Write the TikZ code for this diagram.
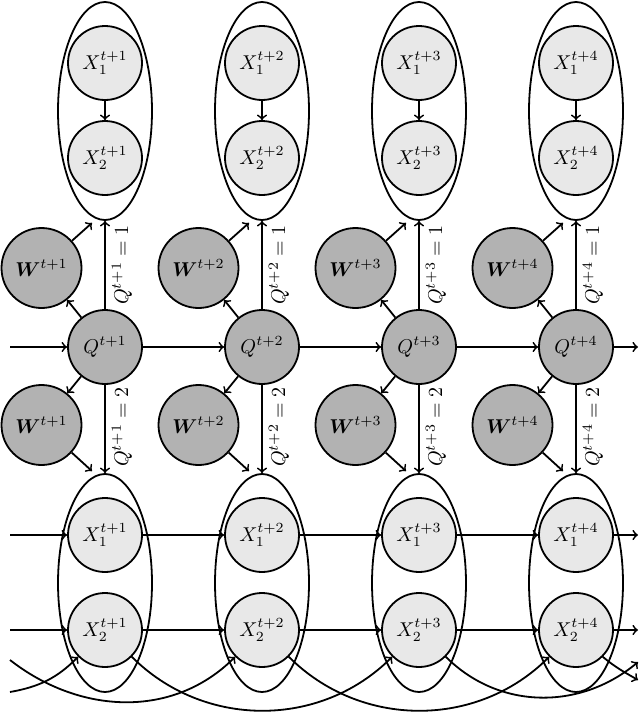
\documentclass[tikz,border=0pt]{standalone}
\usepackage{bm}
\usetikzlibrary{shapes.geometric,calc}
\begin{document}
\begin{tikzpicture}[x=0.5pt,y=-0.5pt,
  line width=0.9pt,
  xnode/.style={circle,draw,fill=black!9,minimum size=37pt,inner sep=0pt},
  qnode/.style={circle,draw,fill=black!30,minimum size=37pt,inner sep=0pt},
  wnode/.style={circle,draw,fill=black!30,minimum size=40pt,inner sep=0pt},
  grp/.style={ellipse,draw,minimum width=47pt,minimum height=109pt,inner sep=0pt},
  arr/.style={->},
  lbl/.style={rotate=90,inner sep=1pt}
]
\useasboundingbox (0,0) rectangle (640,712);
\foreach \i [evaluate=\i as \cx using 105+157*(\i-1)] in {1,2,3,4} {
  \node[grp] (Et\i) at (\cx,111) {};
  \node[xnode] (Xa\i) at (\cx,63) {$X_1^{t+\i}$};
  \node[xnode] (Xb\i) at (\cx,158) {$X_2^{t+\i}$};
  \node[qnode] (Q\i) at (\cx,347) {$Q^{t+\i}$};
  \node[wnode] (Wu\i) at (\cx-63.5,268) {$\bm{W}^{t+\i}$};
  \node[wnode] (Wl\i) at (\cx-63.5,425) {$\bm{W}^{t+\i}$};
  \node[grp] (Eb\i) at (\cx,583) {};
  \node[xnode] (Ya\i) at (\cx,535) {$X_1^{t+\i}$};
  \node[xnode] (Yb\i) at (\cx,630) {$X_2^{t+\i}$};
  \draw[arr] (Xa\i) -- (Xb\i);
  \draw[arr] (Q\i) -- (Et\i.south);
  \draw[arr] (Q\i) -- (Eb\i.north);
  \draw[arr] (Q\i) -- (Wu\i);
  \draw[arr] (Q\i) -- (Wl\i);
  \draw[arr] (Wu\i) -- ($(Et\i.south)+(-13,2)$);
  \draw[arr] (Wl\i) -- ($(Eb\i.north)+(-13,-2)$);
  \node[lbl] (La\i) at (\cx+17,265) {$Q^{t+\i}=1$};
  \node[lbl] (Lb\i) at (\cx+17,427) {$Q^{t+\i}=2$};
}
\coordinate (qin) at (10,347); \coordinate (qout) at (638,347);
\coordinate (ain) at (10,535); \coordinate (aout) at (638,535);
\coordinate (bin) at (10,630); \coordinate (bout) at (638,630);
\draw[arr] (qin) -- (Q1);
\draw[arr] (ain) -- (Ya1);
\draw[arr] (bin) -- (Yb1);
\foreach \i/\j in {1/2,2/3,3/4} {
  \draw[arr] (Q\i) -- (Q\j);
  \draw[arr] (Ya\i) -- (Ya\j);
  \draw[arr] (Yb\i) -- (Yb\j);
}
\draw[arr] (Q4) -- (qout);
\draw[arr] (Ya4) -- (aout);
\draw[arr] (Yb4) -- (bout);
\coordinate (c1) at (10,692); \coordinate (c2) at (10,660);
\coordinate (c3) at (638,662); \coordinate (c4) at (638,680);
\draw[arr] (c1) to[out=10,in=-135] (Yb1.-135);
\draw[arr] (c2) to[out=-38,in=-135] (Yb2.-135);
\draw[arr] (Yb1.-45) to[out=-45,in=-135] (Yb3.-135);
\draw[arr] (Yb2.-45) to[out=-45,in=-135] (Yb4.-135);
\draw[arr] (Yb3.-45) to[out=-45,in=-140] (c3);
\draw[arr] (Yb4.-45) to[out=-40,in=150] (c4);
\end{tikzpicture}
\end{document}
